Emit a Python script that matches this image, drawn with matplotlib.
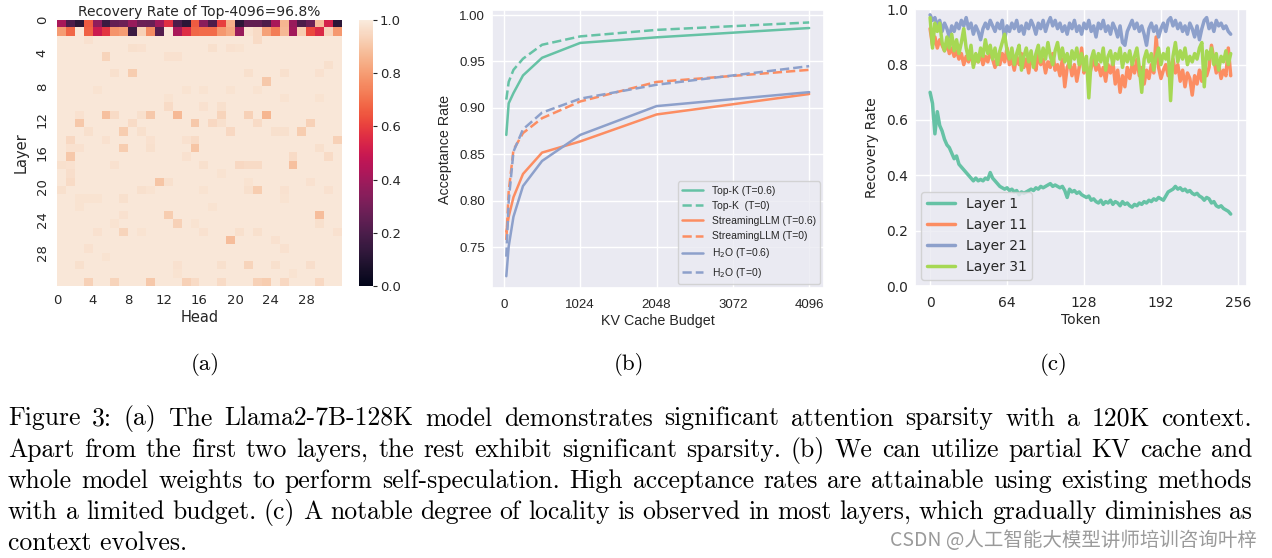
import numpy as np
import matplotlib
matplotlib.use("Agg")
import matplotlib.pyplot as plt
import seaborn as sns

# ---------------- (a) recovery-rate heatmap ----------------
head_ticks = [0, 4, 8, 12, 16, 20, 24, 28]
layer0_rate = [0.42, 0.20, 0.12, 0.66, 0.36, 0.16, 0.26, 0.28, 0.38, 0.28, 0.27, 0.40,
               0.57, 0.20, 0.12, 0.66, 0.35, 0.20, 0.60, 0.85, 0.12, 0.25, 0.25, 0.20,
               0.42, 0.86, 0.38, 0.20, 0.27, 0.88, 0.53, 0.12]
layer1_rate = [0.80, 0.68, 0.99, 0.67, 0.50, 0.58, 0.78, 0.80, 0.16, 0.93, 0.76, 0.22,
               0.99, 0.42, 0.56, 0.68, 0.69, 0.69, 0.79, 0.83, 0.38, 0.98, 0.96, 0.81,
               0.73, 0.87, 0.40, 0.92, 0.62, 0.55, 0.94, 0.79]
base_rate = 0.99
# (layer, head, value) for cells of layers 2..31 that differ from the base
cell_dips = [
    (2, 3, 0.975), (2, 22, 0.96), (3, 8, 0.97), (3, 9, 0.975), (3, 17, 0.97), (3, 19, 0.975), (3, 20, 0.98),
    (4, 5, 0.94), (4, 12, 0.975), (4, 13, 0.975), (5, 30, 0.97),
    (6, 6, 0.97), (6, 8, 0.92), (6, 21, 0.97), (6, 25, 0.97), (6, 29, 0.975),
    (7, 23, 0.91), (8, 4, 0.98), (8, 14, 0.98), (8, 16, 0.98), (8, 19, 0.98), (8, 22, 0.98),
    (9, 12, 0.98), (9, 25, 0.98), (9, 29, 0.98), (10, 12, 0.96), (10, 16, 0.975), (10, 18, 0.97),
    (11, 2, 0.975), (11, 5, 0.89), (11, 6, 0.96), (11, 9, 0.97), (11, 10, 0.91), (11, 13, 0.87),
    (11, 18, 0.94), (11, 21, 0.93), (11, 23, 0.86),
    (12, 2, 0.91), (12, 8, 0.96), (12, 15, 0.91), (12, 17, 0.95), (12, 18, 0.97), (12, 22, 0.96), (12, 28, 0.93),
    (13, 3, 0.97), (13, 7, 0.92), (13, 9, 0.97), (13, 19, 0.95), (13, 24, 0.97), (13, 25, 0.97), (13, 27, 0.92),
    (14, 1, 0.95), (14, 5, 0.975), (14, 10, 0.975), (14, 14, 0.975), (14, 15, 0.96), (14, 31, 0.93),
    (15, 1, 0.975), (15, 2, 0.975), (15, 7, 0.92), (15, 10, 0.97), (15, 15, 0.90), (15, 29, 0.97),
    (16, 1, 0.91), (16, 14, 0.975), (16, 26, 0.96), (16, 30, 0.96),
    (17, 0, 0.97), (17, 1, 0.975), (17, 6, 0.975), (17, 16, 0.97), (17, 20, 0.95), (17, 21, 0.96),
    (17, 22, 0.96), (17, 26, 0.89),
    (18, 1, 0.965), (18, 18, 0.98),
    (19, 1, 0.96), (19, 11, 0.90), (19, 12, 0.97), (19, 21, 0.98), (19, 28, 0.975),
    (20, 0, 0.97), (20, 9, 0.97), (20, 10, 0.98), (20, 16, 0.98), (20, 21, 0.97), (20, 22, 0.92),
    (20, 25, 0.975), (20, 30, 0.975),
    (21, 2, 0.98), (21, 3, 0.98), (21, 4, 0.98), (21, 7, 0.97), (21, 25, 0.98),
    (22, 2, 0.98), (22, 17, 0.98), (23, 7, 0.975), (23, 12, 0.92), (23, 29, 0.88),
    (24, 6, 0.98), (24, 13, 0.93), (24, 15, 0.98), (24, 29, 0.97),
    (25, 4, 0.975), (25, 7, 0.94), (25, 9, 0.98), (25, 16, 0.975), (25, 20, 0.97), (25, 22, 0.97), (25, 31, 0.975),
    (26, 19, 0.88), (26, 24, 0.975), (27, 3, 0.975), (27, 25, 0.975), (28, 5, 0.98),
    (29, 2, 0.97), (29, 13, 0.975), (29, 18, 0.97), (29, 21, 0.94), (29, 24, 0.97), (29, 28, 0.965),
    (30, 13, 0.98), (30, 26, 0.98),
    (31, 3, 0.93), (31, 6, 0.94), (31, 10, 0.91), (31, 14, 0.93), (31, 15, 0.96), (31, 18, 0.96),
    (31, 22, 0.93), (31, 23, 0.92), (31, 25, 0.95), (31, 29, 0.95),
]

# ---------------- (b) acceptance rate vs KV budget ----------------
budget = [32, 64, 128, 256, 512, 1024, 2048, 4096]
topk_t06 = [0.871, 0.905, 0.916, 0.935, 0.954, 0.970, 0.976, 0.986]
topk_t0 = [0.909, 0.928, 0.941, 0.953, 0.968, 0.977, 0.984, 0.992]
stream_t06 = [0.767, 0.783, 0.804, 0.829, 0.852, 0.864, 0.893, 0.915]
stream_t0 = [0.758, 0.810, 0.855, 0.873, 0.889, 0.907, 0.928, 0.941]
h2o_t06 = [0.719, 0.751, 0.783, 0.816, 0.843, 0.871, 0.902, 0.917]
h2o_t0 = [0.740, 0.800, 0.853, 0.877, 0.895, 0.910, 0.925, 0.945]

# ---------------- (c) recovery rate per token ----------------
tokens = np.arange(0, 252, 2)
rate_l1 = [0.70, 0.66, 0.55, 0.63, 0.58, 0.56, 0.53, 0.51, 0.50, 0.48, 0.46, 0.47, 0.44, 0.43,
           0.42, 0.41, 0.40, 0.39, 0.38, 0.39, 0.38, 0.385, 0.38, 0.39, 0.385, 0.41, 0.39, 0.38,
           0.37, 0.36, 0.355, 0.35, 0.355, 0.345, 0.35, 0.34, 0.345, 0.33, 0.34, 0.335, 0.34, 0.345,
           0.35, 0.345, 0.355, 0.35, 0.36, 0.355, 0.36, 0.365, 0.37, 0.36, 0.365, 0.36, 0.355, 0.36,
           0.345, 0.32, 0.35, 0.34, 0.345, 0.335, 0.34, 0.33, 0.325, 0.32, 0.325, 0.31, 0.315, 0.305,
           0.30, 0.31, 0.295, 0.305, 0.30, 0.31, 0.295, 0.305, 0.30, 0.29, 0.305, 0.295, 0.30, 0.29,
           0.285, 0.295, 0.29, 0.30, 0.295, 0.305, 0.30, 0.31, 0.305, 0.315, 0.31, 0.32, 0.315, 0.31,
           0.325, 0.34, 0.345, 0.35, 0.36, 0.35, 0.355, 0.345, 0.35, 0.34, 0.345, 0.335, 0.33, 0.335,
           0.325, 0.32, 0.31, 0.32, 0.315, 0.30, 0.305, 0.29, 0.285, 0.29, 0.28, 0.275, 0.27, 0.26]
rate_l11 = [0.93, 0.87, 0.90, 0.86, 0.89, 0.87, 0.85, 0.88, 0.84, 0.86, 0.83, 0.85, 0.82, 0.84,
            0.80, 0.83, 0.81, 0.84, 0.80, 0.82, 0.81, 0.84, 0.80, 0.83, 0.81, 0.85, 0.82, 0.79,
            0.83, 0.80, 0.84, 0.81, 0.86, 0.80, 0.82, 0.78, 0.83, 0.80, 0.84, 0.79, 0.82, 0.77,
            0.83, 0.80, 0.78, 0.84, 0.80, 0.82, 0.77, 0.81, 0.79, 0.84, 0.78, 0.80, 0.76, 0.82,
            0.72, 0.79, 0.81, 0.76, 0.80, 0.74, 0.79, 0.86, 0.77, 0.80, 0.75, 0.79, 0.82, 0.78,
            0.80, 0.76, 0.79, 0.74, 0.80, 0.77, 0.81, 0.73, 0.78, 0.70, 0.76, 0.72, 0.79, 0.75,
            0.80, 0.77, 0.82, 0.76, 0.79, 0.73, 0.78, 0.75, 0.80, 0.77, 0.90, 0.79, 0.75, 0.78,
            0.80, 0.76, 0.79, 0.82, 0.77, 0.80, 0.74, 0.78, 0.72, 0.77, 0.75, 0.69, 0.76, 0.73,
            0.78, 0.74, 0.80, 0.76, 0.79, 0.87, 0.82, 0.77, 0.80, 0.75, 0.78, 0.76, 0.86, 0.76]
rate_l21 = [0.98, 0.96, 0.97, 0.94, 0.96, 0.92, 0.95, 0.93, 0.90, 0.94, 0.92, 0.95, 0.93, 0.96,
            0.94, 0.97, 0.93, 0.95, 0.91, 0.94, 0.92, 0.89, 0.93, 0.95, 0.93, 0.96, 0.94, 0.92,
            0.95, 0.93, 0.96, 0.89, 0.94, 0.92, 0.95, 0.93, 0.96, 0.92, 0.94, 0.91, 0.95, 0.93,
            0.96, 0.94, 0.91, 0.95, 0.93, 0.96, 0.92, 0.95, 0.97, 0.94, 0.96, 0.93, 0.95, 0.92,
            0.94, 0.91, 0.95, 0.93, 0.96, 0.92, 0.94, 0.91, 0.95, 0.93, 0.96, 0.92, 0.94, 0.90,
            0.95, 0.93, 0.96, 0.92, 0.94, 0.91, 0.95, 0.93, 0.90, 0.94, 0.88, 0.87, 0.92, 0.94,
            0.96, 0.93, 0.95, 0.92, 0.94, 0.91, 0.87, 0.93, 0.95, 0.92, 0.94, 0.90, 0.93, 0.95,
            0.92, 0.96, 0.97, 0.94, 0.96, 0.93, 0.95, 0.92, 0.94, 0.91, 0.95, 0.93, 0.90, 0.94,
            0.89, 0.93, 0.96, 0.97, 0.93, 0.95, 0.92, 0.96, 0.94, 0.95, 0.93, 0.94, 0.92, 0.91]
rate_l31 = [0.97, 0.86, 0.95, 0.92, 0.95, 0.88, 0.85, 0.90, 0.86, 0.91, 0.85, 0.89, 0.84, 0.88,
            0.93, 0.86, 0.82, 0.87, 0.79, 0.84, 0.81, 0.86, 0.83, 0.89, 0.84, 0.87, 0.82, 0.86,
            0.80, 0.85, 0.88, 0.91, 0.85, 0.82, 0.86, 0.80, 0.84, 0.87, 0.78, 0.83, 0.86, 0.81,
            0.85, 0.79, 0.84, 0.87, 0.81, 0.86, 0.82, 0.88, 0.83, 0.80, 0.85, 0.88, 0.82, 0.86,
            0.81, 0.84, 0.79, 0.85, 0.82, 0.86, 0.80, 0.84, 0.78, 0.83, 0.68, 0.82, 0.85, 0.80,
            0.84, 0.81, 0.86, 0.78, 0.83, 0.85, 0.80, 0.84, 0.82, 0.86, 0.79, 0.84, 0.81, 0.85,
            0.80, 0.83, 0.86, 0.79, 0.70, 0.82, 0.85, 0.81, 0.84, 0.78, 0.83, 0.86, 0.80, 0.84,
            0.82, 0.86, 0.67, 0.83, 0.88, 0.81, 0.85, 0.82, 0.86, 0.80, 0.83, 0.81, 0.84, 0.82,
            0.86, 0.88, 0.72, 0.85, 0.82, 0.86, 0.80, 0.84, 0.78, 0.83, 0.81, 0.85, 0.80, 0.84]

caption_lines = [
    "Figure 3: (a) The Llama2-7B-128K model demonstrates significant attention sparsity with a 120K context.",
    "Apart from the first two layers, the rest exhibit significant sparsity. (b) We can utilize partial KV cache and",
    "whole model weights to perform self-speculation. High acceptance rates are attainable using existing methods",
    "with a limited budget. (c) A notable degree of locality is observed in most layers, which gradually diminishes as",
    "context evolves.",
]

W, H = 1272, 558
sns.set_theme(style="darkgrid")
fig = plt.figure(figsize=(W / 100, H / 100), dpi=100)
text_col = ".15"

# ---- panel (a)
rec = np.full((32, 32), base_rate)
rec[0] = layer0_rate
rec[1] = layer1_rate
for l, h, v in cell_dips:
    rec[l, h] = v

ax_a = fig.add_axes([57 / W, 1 - 286 / H, 285 / W, 266 / H])
im = ax_a.imshow(rec, cmap="rocket", vmin=0, vmax=1, aspect="auto",
                 extent=(0, 32, 32, 0), interpolation="nearest")
ax_a.grid(False)
for s in ax_a.spines.values():
    s.set_visible(False)
ax_a.set_xticks(head_ticks)
ax_a.set_yticks(head_ticks)
ax_a.set_xticklabels(head_ticks, fontsize=9.5)
ax_a.set_yticklabels(head_ticks, fontsize=9.5, rotation=90, va="center")
ax_a.tick_params(length=0, pad=6)
ax_a.set_xlabel("Head", fontsize=10.5, labelpad=2)
ax_a.set_ylabel("Layer", fontsize=10.5, labelpad=5)
ax_a.set_title("Recovery Rate of Top-4096=96.8%", fontsize=10, pad=3)

cax = fig.add_axes([359 / W, 1 - 286 / H, 14 / W, 266 / H])
cb = fig.colorbar(im, cax=cax)
cb.outline.set_visible(False)
cb.set_ticks([0.0, 0.2, 0.4, 0.6, 0.8, 1.0])
cax.tick_params(right=True, length=3, width=0.8, color=text_col, labelsize=9.5, pad=2)

# ---- panel (b)
sans = "Liberation Sans"
pal = sns.color_palette("Set2")
ax_b = fig.add_axes([492 / W, 1 - 288 / H, 332 / W, 278 / H])
lw = 1.8
ax_b.plot(budget, topk_t06, color=pal[0], lw=lw, label="Top-K (T=0.6)")
ax_b.plot(budget, topk_t0, color=pal[0], lw=lw, ls="--", label="Top-K  (T=0)")
ax_b.plot(budget, stream_t06, color=pal[1], lw=lw, label="StreamingLLM (T=0.6)")
ax_b.plot(budget, stream_t0, color=pal[1], lw=lw, ls="--", label="StreamingLLM (T=0)")
ax_b.plot(budget, h2o_t06, color=pal[2], lw=lw, label="H$_2$O (T=0.6)")
ax_b.plot(budget, h2o_t0, color=pal[2], lw=lw, ls="--", label="H$_2$O (T=0)")
ax_b.set_xlim(-160, 4295)
ax_b.set_ylim(0.7063, 1.0054)
ax_b.set_xticks([0, 1024, 2048, 3072, 4096])
ax_b.set_yticks([0.75, 0.80, 0.85, 0.90, 0.95, 1.00])
ax_b.set_yticklabels(["0.75", "0.80", "0.85", "0.90", "0.95", "1.00"])
for lab in ax_b.get_xticklabels() + ax_b.get_yticklabels():
    lab.set_fontfamily(sans)
    lab.set_fontsize(9.5)
ax_b.tick_params(axis="x", length=0, pad=8)
ax_b.tick_params(axis="y", length=0, pad=5)
ax_b.set_xlabel("KV Cache Budget", fontsize=10.3, family=sans, labelpad=2)
ax_b.set_ylabel("Acceptance Rate", fontsize=10.3, family=sans, labelpad=5)
ax_b.legend(loc="lower right", prop={"family": sans, "size": 7.5}, borderaxespad=0.4)

# ---- panel (c)
ax_c = fig.add_axes([915 / W, 1 - 286 / H, 332 / W, 276.7 / H])
ax_c.plot(tokens, rate_l1, color=pal[0], lw=2.5, label="Layer 1")
ax_c.plot(tokens, rate_l11, color=pal[1], lw=2.5, label="Layer 11")
ax_c.plot(tokens, rate_l21, color=pal[2], lw=2.5, label="Layer 21")
ax_c.plot(tokens, rate_l31, color=pal[4], lw=2.5, label="Layer 31")
ax_c.set_xlim(-12.55, 263.55)
ax_c.set_ylim(0, 1.0)
ax_c.set_xticks([0, 64, 128, 192, 256])
ax_c.set_yticks([0.0, 0.2, 0.4, 0.6, 0.8, 1.0])
ax_c.tick_params(axis="x", length=0, pad=7, labelsize=10)
ax_c.tick_params(axis="y", length=0, pad=5, labelsize=10)
ax_c.set_xlabel("Token", fontsize=10, labelpad=2)
ax_c.set_ylabel("Recovery Rate", fontsize=10, labelpad=5)
ax_c.legend(loc="lower left", fontsize=10, borderaxespad=0.45)

# ---- sub labels and caption (LaTeX-like serif)
serif = "cmr10"
cap_size = 18.5
for x, lab in [(205, "(a)"), (629, "(b)"), (1054, "(c)")]:
    fig.text(x / W, 1 - 365 / H, lab, family=serif, size=16.5, ha="center", va="center", color="black")

renderer = fig.canvas.get_renderer()
baselines = [425.5, 456.8, 488.0, 519.2, 550.5]
x0, x1 = 8, 1252
for i, (line, yb) in enumerate(zip(caption_lines, baselines)):
    if i == len(caption_lines) - 1:
        fig.text(x0 / W, 1 - yb / H, line, family=serif, size=cap_size, va="baseline", color="black")
        continue
    words = line.split(" ")
    objs = [fig.text(0, 1 - yb / H, w, family=serif, size=cap_size, va="baseline", color="black")
            for w in words]
    widths = [o.get_window_extent(renderer).width for o in objs]
    gap = (x1 - x0 - sum(widths)) / (len(words) - 1)
    x = x0
    for o, w in zip(objs, widths):
        o.set_x(x / W)
        x += w + gap

fig.text(1257 / W, 1 - 540 / H, "CSDN @人工智能大模型讲师培训咨询叶梓",
         family=["Noto Sans CJK SC", "DejaVu Sans"], size=14, color="#9a9a9a",
         ha="right", va="center")

fig.savefig("out.png", dpi=100)
